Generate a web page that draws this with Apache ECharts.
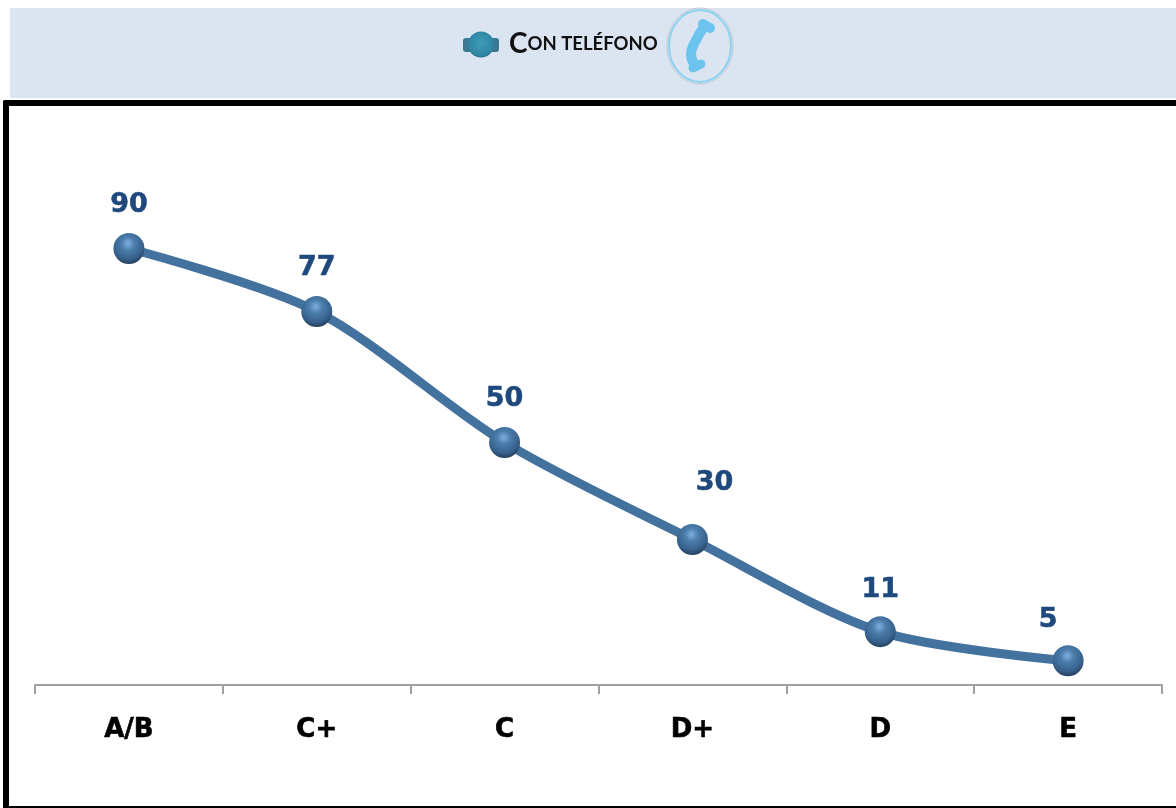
<!DOCTYPE html>
<html>
<head>
<meta charset="utf-8">
<title>Con teléfono</title>
<style>
html, body { margin: 0; padding: 0; background: #fff; }
#chart { width: 1176px; height: 808px; }
</style>
<script src="https://cdn.jsdelivr.net/npm/echarts@6/dist/echarts.min.js"></script>
</head>
<body>
<div id="chart"></div>
<script>
var categories = ['A/B', 'C+', 'C', 'D+', 'D', 'E'];
var values = [90, 77, 50, 30, 11, 5];
var labelDx = [0, 0, 0, 22, 0, -20];
var labelDy = [-44, -44, -44, -57, -42, -41];

var chart = echarts.init(document.getElementById('chart'));

var seriesData = [];
for (var i = 0; i < values.length; i++) {
	seriesData.push({
		value : values[i],
		label : {
			offset : [ labelDx[i], labelDy[i] ]
		}
	});
}

var option = {
	animation : false,
	backgroundColor : '#fff',
	title : {
		text : '{big|C}{small|ON TELÉFONO}',
		left : 509,
		top : 30,
		padding : 0,
		textStyle : {
			rich : {
				big : {
					fontFamily : 'Lato',
					fontSize : 28,
					fontWeight : 'bold',
					color : '#111'
				},
				small : {
					fontFamily : 'Lato',
					fontSize : 18.5,
					fontWeight : 'bold',
					color : '#111'
				}
			}
		}
	},
	grid : {
		left : 35,
		right : 14,
		top : 200,
		bottom : 123
	},
	xAxis : {
		type : 'category',
		data : categories,
		axisLine : {
			lineStyle : {
				color : '#a0a0a0',
				width : 2
			}
		},
		axisTick : {
			show : true,
			length : 9,
			lineStyle : {
				color : '#a0a0a0',
				width : 2
			}
		},
		axisLabel : {
			fontFamily : 'DejaVu Sans',
			fontSize : 26,
			fontWeight : 'bold',
			color : '#000',
			textBorderColor : '#000',
			textBorderWidth : 0.6,
			margin : 32
		}
	},
	yAxis : {
		type : 'value',
		min : 0,
		max : 100,
		show : false,
		splitLine : {
			show : false
		}
	},
	series : [ {
		type : 'line',
		data : seriesData,
		smooth : 0.3,
		symbol : 'circle',
		symbolSize : 31,
		lineStyle : {
			color : '#44729f',
			width : 9
		},
		itemStyle : {
			color : {
				type : 'radial',
				x : 0.47,
				y : 0.34,
				r : 0.74,
				colorStops : [
					{ offset : 0, color : '#7fb0e0' },
					{ offset : 0.3, color : '#4a7cab' },
					{ offset : 0.68, color : '#38618c' },
					{ offset : 0.9, color : '#233f5c' },
					{ offset : 1, color : '#8aa3bc' }
				]
			}
		},
		label : {
			show : true,
			position : 'inside',
			fontFamily : 'DejaVu Sans',
			fontSize : 27,
			fontWeight : 'bold',
			color : '#1f497d',
			textBorderColor : '#1f497d',
			textBorderWidth : 0.6
		}
	} ],
	graphic : [
		// header band
		{ type : 'rect', z : -1, shape : { x : 10, y : 8, width : 1166, height : 90 }, style : { fill : '#dbe5f1' } },
		// black frame
		{ type : 'rect', z : 1, shape : { x : 3, y : 100, width : 1173, height : 6, r : [ 2, 0, 0, 0 ] }, style : { fill : '#000' } },
		{ type : 'rect', z : 1, shape : { x : 3, y : 100, width : 6, height : 708, r : [ 2, 0, 0, 0 ] }, style : { fill : '#000' } },
		{ type : 'rect', z : 1, shape : { x : 3, y : 806, width : 1173, height : 2 }, style : { fill : '#000' } },
		// bullet left of the header text
		{ type : 'rect', z : 2, shape : { x : 463, y : 38, width : 36, height : 14, r : 3 }, style : { fill : '#3d7890' } },
		{ type : 'circle', z : 3, shape : { cx : 481, cy : 44.5, r : 13 }, style : {
			fill : { type : 'radial', x : 0.5, y : 0.45, r : 0.6, colorStops : [
				{ offset : 0, color : '#3f9cb8' },
				{ offset : 0.8, color : '#2f86a3' },
				{ offset : 1, color : '#1f5a70' }
			] }
		} },
		// phone icon
		{ type : 'ellipse', z : 2, shape : { cx : 700, cy : 46, rx : 31, ry : 36 }, style : { fill : 'none', stroke : '#8ed0f0', lineWidth : 2 } },
		{ type : 'ellipse', z : 2, shape : { cx : 700, cy : 46, rx : 33, ry : 38 }, style : { fill : 'none', stroke : '#a9b5bd', lineWidth : 0.6 } },
		{ type : 'polyline', z : 3, shape : {
			points : [ [ 704, 27 ], [ 695, 42 ], [ 691, 55 ], [ 696, 66 ] ],
			smooth : 0.5
		}, style : { fill : 'none', stroke : '#6cc3ee', lineWidth : 10, lineCap : 'round' } },
		{ type : 'polyline', z : 3, shape : {
			points : [ [ 703, 24 ], [ 710, 28 ] ]
		}, style : { fill : 'none', stroke : '#6cc3ee', lineWidth : 10, lineCap : 'round' } },
		{ type : 'polyline', z : 3, shape : {
			points : [ [ 693, 68 ], [ 701, 64 ] ]
		}, style : { fill : 'none', stroke : '#6cc3ee', lineWidth : 9, lineCap : 'round' } }
	]
};
chart.setOption(option);
</script>
</body>
</html>
